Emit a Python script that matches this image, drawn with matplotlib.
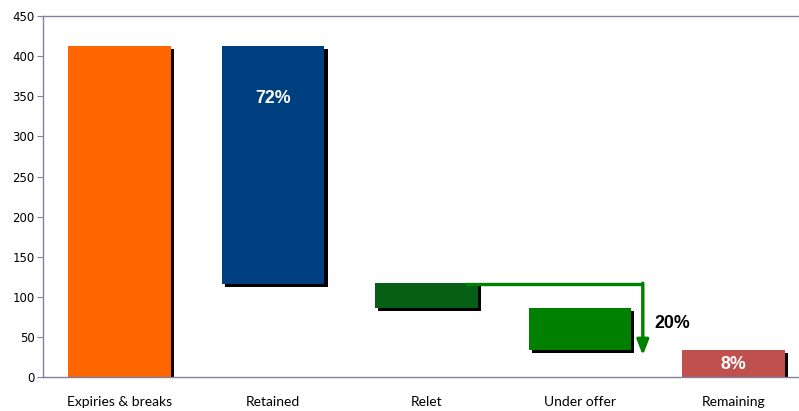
import matplotlib.pyplot as plt
import matplotlib.patheffects as pe

# waterfall values
categories = ['Expiries & breaks', 'Retained', 'Relet', 'Under offer', 'Remaining']
tops = [413, 413, 117, 86, 34]
bottoms = [0, 116, 86, 34, 0]
colors = ['#FF6600', '#003F7F', '#056016', '#008000', '#C0504D']

# percentage labels: (category index, y value, text, colour)
pct_labels = [(1, 347, '72%', 'white'), (4, 15, '8%', 'white')]
under_offer_pct = '20%'

# arrow path from Relet level down past Under offer
arrow_y_start = 116
arrow_y_end = 27

fig = plt.figure(figsize=(7.99, 4.11), dpi=100)
ax = fig.add_axes([0.0538, 0.0827, 0.96, 0.878])

x = list(range(len(categories)))
heights = [t - b for t, b in zip(tops, bottoms)]
shadow = [pe.SimplePatchShadow(offset=(2.2, -2.2), shadow_rgbFace='black', alpha=1.0), pe.Normal()]
bars = ax.bar(x, heights, bottom=bottoms, width=0.67, color=colors, linewidth=0)
for b in bars:
    b.set_path_effects(shadow)

for i, y, txt, c in pct_labels:
    ax.text(i, y, txt, color=c, fontsize=12.8, fontweight='bold', ha='center', va='center',
            family='Liberation Sans')

# green arrow
ax.plot([2.25, 3.41], [arrow_y_start, arrow_y_start], color='#008000', lw=2.4, solid_capstyle='butt')
ax.annotate('', xy=(3.41, arrow_y_end), xytext=(3.41, arrow_y_start + 1),
            arrowprops=dict(arrowstyle='-|>,head_width=0.35,head_length=0.9', color='#008000', lw=2.4,
                            shrinkA=0, shrinkB=0))
ax.text(3.485, 67, under_offer_pct, fontsize=12.8, fontweight='bold', ha='left', va='center',
        family='Liberation Sans')

ax.set_xlim(-0.5, 4.5)
ax.set_ylim(0, 450)
ax.set_yticks(range(0, 451, 50))
ax.set_xticks(x)
ax.set_xticklabels(categories, fontsize=10, family='Lato')
ax.tick_params(axis='x', length=0, pad=14)
ax.tick_params(axis='y', length=4, direction='out', color='#8080A0', labelsize=8.5, pad=2)

spine_c = '#8080A0'
for s in ['left', 'bottom', 'top']:
    ax.spines[s].set_color(spine_c)
    ax.spines[s].set_linewidth(1)
ax.spines['right'].set_visible(False)

fig.savefig('out.png', dpi=100)
